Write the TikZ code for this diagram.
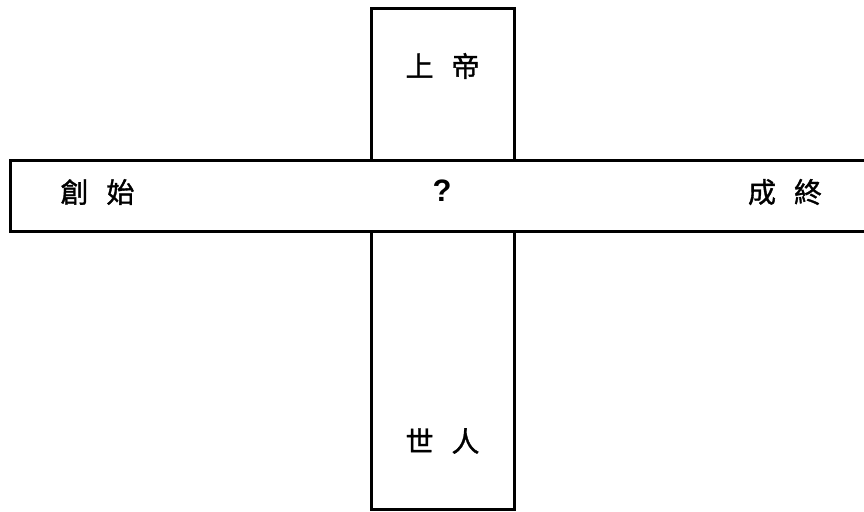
\documentclass[tikz,border=0pt]{standalone}
\usepackage{fontspec}
\newfontfamily\cjk[FakeBold=1.2]{Noto Sans CJK TC}
\newfontfamily\latinsans{Liberation Sans}
\begin{document}
\begin{tikzpicture}[x=1pt,y=-1pt,
  boxstyle/.style={draw=black,line width=3pt,fill=white},
  lbl/.style={font=\cjk\fontsize{28}{28}\selectfont,inner sep=0pt,anchor=center},
  qlbl/.style={font=\latinsans\bfseries\fontsize{31}{31}\selectfont,inner sep=0pt,anchor=center}]
\useasboundingbox (0,0) rectangle (864,511);
\fill[white] (0,0) rectangle (864,511);
\draw[boxstyle] (371.5,9) rectangle (514.5,509.5);
\draw[boxstyle] (10.5,160) rectangle (880,231);
\node[lbl] (god) at (442.5,66) {上\hspace{18pt}帝};
\node[lbl] (men) at (442.5,441) {世\hspace{18pt}人};
\node[lbl] (start) at (97.5,192) {創\hspace{18pt}始};
\node[qlbl] (q) at (442,191) {?};
\node[lbl] (end) at (785,192) {成\hspace{18pt}終};
\end{tikzpicture}
\end{document}
